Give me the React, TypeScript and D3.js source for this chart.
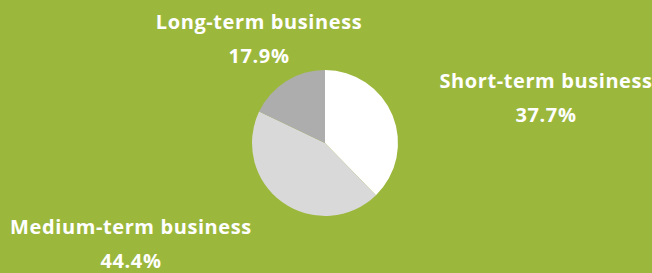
import React from "react";
import * as d3 from "d3";

const categories = ["Short-term business", "Medium-term business", "Long-term business"];
const shares = [37.7, 44.4, 17.9];
const sliceColors = ["#ffffff", "#d9d9d9", "#adadad"];

// label anchor per slice (center x, baseline of title)
const labelPos = [
  { x: 546, y: 88 },
  { x: 131, y: 234 },
  { x: 259, y: 29 },
];

export default function App() {
  const width = 652;
  const height = 273;
  const cx = 325;
  const cy = 143;
  const r = 73;

  const pie = d3.pie<number>().sort(null).value((d) => d);
  const arcs = pie(shares);
  const arc = d3.arc<d3.PieArcDatum<number>>().innerRadius(0).outerRadius(r);
  const fmt = d3.format(".1f");

  return (
    <div style={{ position: "fixed", left: 0, top: 0 }}>
      <svg width={width} height={height} style={{ display: "block" }}>
        <rect width={width} height={height} fill="#9cb83c" />
        <g transform={`translate(${cx},${cy})`}>
          {arcs.map((a, i) => (
            <path key={i} d={arc(a) || ""} fill={sliceColors[i]} />
          ))}
        </g>
        {categories.map((c, i) => (
          <g key={c} fill="#ffffff" fontFamily="'Open Sans', sans-serif" fontWeight={700} fontSize={20} letterSpacing={0.6} textAnchor="middle">
            <text x={labelPos[i].x} y={labelPos[i].y}>{c}</text>
            <text x={labelPos[i].x} y={labelPos[i].y + 34}>{fmt(shares[i])}%</text>
          </g>
        ))}
      </svg>
    </div>
  );
}
